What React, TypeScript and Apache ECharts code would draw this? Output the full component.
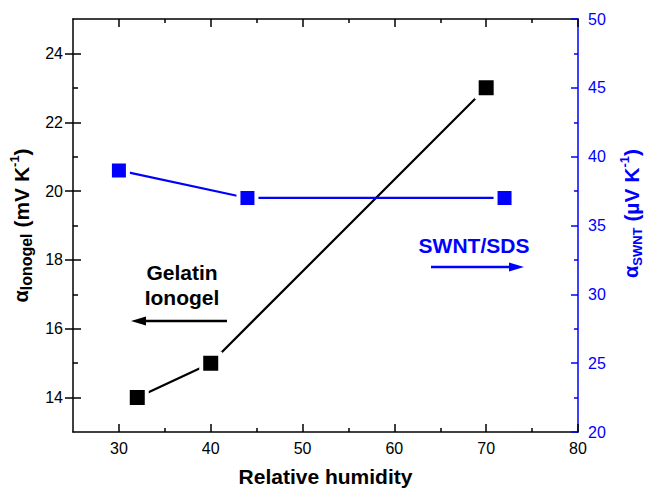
import React, { useEffect, useRef } from "react";
import * as echarts from "echarts";

// Data
const ionogelX = [32, 40, 70];
const ionogelY = [14, 15, 23];
const swntX = [30, 44, 72];
const swntY = [39, 37, 37];

// Ticks
const xMajorTicks = [30, 40, 50, 60, 70, 80];
const xMinorTicks = [35, 45, 55, 65, 75];
const leftMajorTicks = [14, 16, 18, 20, 22, 24];
const leftMinorTicks = [15, 17, 19, 21, 23];

const BLUE = "#0000ff";
const FONT = "'Liberation Sans', Arial, sans-serif";

export default function App() {
  const ref = useRef<HTMLDivElement>(null);
  useEffect(() => {
    if (!ref.current) return;
    const chart = echarts.init(ref.current, null, { renderer: "svg" });
    const baseX = { type: "value", min: 25, max: 80, gridIndex: 0 };
    const baseL = { type: "value", min: 13, max: 25 };
    const hidden = {
      axisLine: { show: false, onZero: false },
      axisLabel: { show: false },
      splitLine: { show: false },
    };
    const option: any = {
      animation: false,
      textStyle: { fontFamily: FONT },
      grid: { left: 73, right: 69, top: 19, bottom: 56, containLabel: false, outerBoundsMode: "none" },
      xAxis: [
        {
          ...baseX,
          position: "bottom",
          axisLine: { show: true, onZero: false, lineStyle: { color: "#000", width: 1.5 } },
          axisTick: { show: true, inside: true, length: 8, customValues: xMajorTicks, lineStyle: { color: "#000", width: 1.5 } },
          axisLabel: { show: true, customValues: xMajorTicks, margin: 8, fontSize: 16, color: "#000", fontFamily: FONT },
          splitLine: { show: false },
          name: "Relative humidity",
          nameLocation: "middle",
          nameGap: 34,
          nameTextStyle: { fontSize: 21, fontWeight: "bold", color: "#000", fontFamily: FONT },
        },
        {
          ...baseX,
          position: "bottom",
          ...hidden,
          axisTick: { show: true, inside: true, length: 4, customValues: xMinorTicks, lineStyle: { color: "#000", width: 1.5 } },
        },
        {
          ...baseX,
          position: "top",
          axisLine: { show: true, onZero: false, lineStyle: { color: "#000", width: 1.5 } },
          axisLabel: { show: false },
          splitLine: { show: false },
          axisTick: { show: true, inside: true, length: 8, customValues: xMajorTicks, lineStyle: { color: "#000", width: 1.5 } },
        },
        {
          ...baseX,
          position: "top",
          ...hidden,
          axisTick: { show: true, inside: true, length: 4, customValues: xMinorTicks, lineStyle: { color: "#000", width: 1.5 } },
        },
      ],
      yAxis: [
        {
          ...baseL,
          position: "left",
          axisLine: { show: true, onZero: false, lineStyle: { color: "#000", width: 1.5 } },
          axisTick: { show: true, inside: true, length: 8, customValues: leftMajorTicks, lineStyle: { color: "#000", width: 1.5 } },
          axisLabel: { show: true, customValues: leftMajorTicks, margin: 10, fontSize: 16, color: "#000", fontFamily: FONT },
          splitLine: { show: false },
          name: "{a|α}{s|Ionogel}{b| (mV K}{p|-1}{b|)}",
          nameLocation: "middle",
          nameRotate: 90,
          nameGap: 36,
          nameTextStyle: {
            color: "#000",
            fontFamily: FONT,
            rich: {
              a: { fontSize: 20, fontWeight: "bold", lineHeight: 26, color: "#000", fontFamily: FONT },
              b: { fontSize: 21, fontWeight: "bold", lineHeight: 26, color: "#000", fontFamily: FONT },
              s: { fontSize: 16, fontWeight: "bold", lineHeight: 14, verticalAlign: "bottom", color: "#000", fontFamily: FONT },
              p: { fontSize: 13, fontWeight: "bold", lineHeight: 12, verticalAlign: "top", color: "#000", fontFamily: FONT },
            },
          },
        },
        {
          type: "value",
          min: 20,
          max: 50,
          interval: 5,
          position: "right",
          axisLine: { show: true, onZero: false, lineStyle: { color: BLUE, width: 1.5 } },
          axisTick: { show: true, inside: true, length: 7, lineStyle: { color: BLUE, width: 1.5 } },
          minorTick: { show: true, splitNumber: 2, length: 4, lineStyle: { color: BLUE, width: 1.5 } },
          axisLabel: { show: true, margin: 10, fontSize: 16, color: BLUE, fontFamily: FONT },
          splitLine: { show: false },
          minorSplitLine: { show: false },
          name: "{a|α}{s|SWNT}{b| (µV K}{p|-1}{b|)}",
          nameLocation: "middle",
          nameRotate: 90,
          nameGap: 40,
          nameTextStyle: {
            color: BLUE,
            fontFamily: FONT,
            padding: [0, 0, 0, 24],
            rich: {
              a: { fontSize: 20, fontWeight: "bold", lineHeight: 26, color: BLUE, fontFamily: FONT },
              b: { fontSize: 21, fontWeight: "bold", lineHeight: 26, color: BLUE, fontFamily: FONT },
              s: { fontSize: 13, fontWeight: "bold", lineHeight: 12, verticalAlign: "bottom", color: BLUE, fontFamily: FONT },
              p: { fontSize: 13, fontWeight: "bold", lineHeight: 12, verticalAlign: "top", color: BLUE, fontFamily: FONT },
            },
          },
        },
        {
          ...baseL,
          position: "left",
          ...hidden,
          axisTick: { show: true, inside: false, length: 8, customValues: leftMajorTicks, lineStyle: { color: "#000", width: 1.5 } },
        },
        {
          ...baseL,
          position: "left",
          ...hidden,
          axisTick: { show: true, inside: true, length: 5, customValues: leftMinorTicks, lineStyle: { color: "#000", width: 1.5 } },
        },
      ],
      series: [
        {
          type: "line",
          xAxisIndex: 0,
          yAxisIndex: 0,
          data: ionogelX.map((x, i) => [x, ionogelY[i]]),
          symbol: "rect",
          symbolSize: 19,
          itemStyle: { color: "#000", borderColor: "#fff", borderWidth: 4 },
          lineStyle: { color: "#000", width: 2.2 },
          z: 3,
        },
        {
          type: "line",
          xAxisIndex: 0,
          yAxisIndex: 1,
          data: swntX.map((x, i) => [x, swntY[i]]),
          symbol: "rect",
          symbolSize: 18,
          itemStyle: { color: BLUE, borderColor: "#fff", borderWidth: 4 },
          lineStyle: { color: BLUE, width: 2.2 },
          z: 3,
        },
      ],
      graphic: [
        { type: "text", x: 182, y: 272, style: { text: "Gelatin", fontSize: 21, fontWeight: "bold", fill: "#000", fontFamily: FONT, align: "center", verticalAlign: "middle" } },
        { type: "text", x: 182, y: 297, style: { text: "Ionogel", fontSize: 21, fontWeight: "bold", fill: "#000", fontFamily: FONT, align: "center", verticalAlign: "middle" } },
        { type: "line", shape: { x1: 227, y1: 321, x2: 142, y2: 321 }, style: { stroke: "#000", lineWidth: 2.5 } },
        { type: "polygon", shape: { points: [[131, 321], [146, 316.5], [146, 325.5]] }, style: { fill: "#000" } },
        { type: "text", x: 474, y: 245, style: { text: "SWNT/SDS", fontSize: 21, fontWeight: "bold", fill: BLUE, fontFamily: FONT, align: "center", verticalAlign: "middle" } },
        { type: "line", shape: { x1: 431, y1: 267, x2: 512, y2: 267 }, style: { stroke: BLUE, lineWidth: 2.5 } },
        { type: "polygon", shape: { points: [[524, 267], [509, 262.5], [509, 271.5]] }, style: { fill: BLUE } },
      ],
    };
    chart.setOption(option);
    return () => chart.dispose();
  }, []);
  return <div ref={ref} style={{ position: "fixed", left: 0, top: 0, width: 647, height: 488, background: "#fff" }} />;
}
